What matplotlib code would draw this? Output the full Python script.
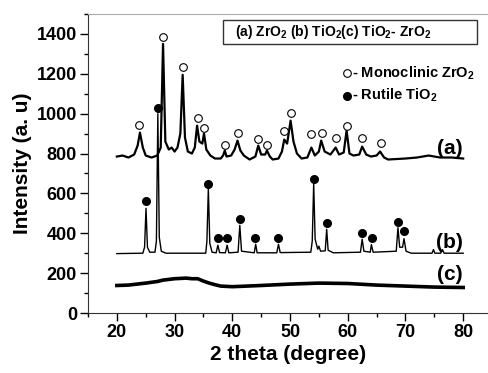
import matplotlib
matplotlib.use("Agg")
import matplotlib.pyplot as plt
from matplotlib.patches import Rectangle

plt.rcParams['font.family'] = ['Liberation Sans', 'DejaVu Sans']
plt.rcParams['font.weight'] = 'bold'
plt.rcParams['mathtext.fontset'] = 'custom'
plt.rcParams['mathtext.bf'] = 'Liberation Sans:bold'
plt.rcParams['mathtext.rm'] = 'Liberation Sans:bold'
plt.rcParams['mathtext.default'] = 'bf'

# ---- data ----
theta_a = [20, 21, 22, 23, 23.6, 24.0, 24.5, 25, 26, 27, 27.6, 28.0, 28.4, 29, 29.5, 30, 30.5,
           31.0, 31.4, 31.8, 32.3, 33, 33.5, 33.9, 34.3, 34.8, 35.1, 35.5, 36.2, 37, 38, 38.4,
           38.7, 39.0, 39.8, 40.4, 40.9, 41.4, 42, 43, 44, 44.5, 45.0, 45.7, 46.0, 46.5, 47, 48,
           48.6, 49.0, 49.5, 50.1, 50.6, 51.2, 52, 53, 53.7, 54.3, 55, 55.4, 56, 57, 57.9, 58.5,
           59.3, 59.8, 60.3, 61, 62, 62.5, 63.2, 64, 65, 65.6, 66.3, 67, 70, 72, 74, 76, 78, 80]
int_a = [785, 790, 780, 795, 840, 905, 830, 790, 780, 790, 830, 1350, 860, 820, 830, 810, 830,
         900, 1195, 880, 810, 800, 830, 940, 860, 850, 900, 820, 790, 775, 775, 790,
         815, 785, 790, 820, 865, 815, 790, 770, 785, 840, 795, 795, 815, 785, 770, 775,
         810, 870, 850, 965, 860, 800, 775, 780, 830, 790, 810, 865, 810, 795, 830, 795,
         805, 915, 800, 790, 795, 835, 795, 785, 790, 810, 780, 770, 775, 780, 790, 780, 780, 775]

theta_b = [20, 24.5, 24.8, 25.05, 25.3, 25.7, 26.6, 26.85, 27.1, 27.35, 27.7, 28.5, 35.4, 35.6,
           35.85, 36.1, 36.5, 37.2, 37.5, 37.8, 38.8, 39.1, 39.4, 41.0, 41.3, 41.6, 43.8, 44.05,
           44.3, 47.7, 48.0, 48.3, 53.6, 53.85, 54.1, 54.35, 54.8, 55.0, 55.3, 56.1, 56.35, 56.6,
           57.5, 62.2, 62.5, 62.8, 63.9, 64.1, 64.4, 68.4, 68.7, 69.0, 69.5, 69.75, 70.1, 71,
           74.6, 74.85, 75.1, 76.1, 76.4, 76.7, 80]
int_b = [298, 300, 330, 525, 330, 305, 305, 360, 1000, 380, 310, 300, 300, 360,
         625, 350, 305, 302, 340, 303, 302, 340, 302, 305, 440, 310, 302, 345,
         302, 302, 345, 303, 305, 360, 650, 370, 320, 335, 310, 312, 420, 315,
         302, 305, 370, 310, 305, 343, 305, 310, 428, 330, 330, 373, 310, 300,
         300, 318, 300, 300, 318, 300, 300]

theta_c = [20, 22, 25, 27, 28, 30, 32, 33, 34, 35, 36, 37, 38, 40, 45, 50, 55, 60, 65, 70, 75, 80]
int_c = [138, 140, 150, 158, 165, 172, 175, 172, 172, 160, 150, 142, 135, 132, 138, 145, 150, 148,
         140, 135, 130, 128]

zro2_theta = [23.8, 28.0, 31.4, 34.0, 35.1, 38.7, 41.0, 44.5, 46.0, 49.0, 50.2, 53.6, 55.5, 58.0,
              59.8, 62.5, 65.7]
zro2_int = [945, 1385, 1235, 976, 930, 845, 902, 872, 845, 915, 1005, 898, 902, 878, 940, 878, 852]

tio2_theta = [25.0, 27.1, 35.8, 37.5, 39.1, 41.3, 44.0, 48.0, 54.1, 56.4, 62.5, 64.2, 68.7, 69.8]
tio2_int = [560, 1030, 648, 377, 377, 470, 377, 377, 673, 453, 403, 378, 457, 410]

curve_labels = ['(a)', '(b)', '(c)']
curve_label_pos = [825, 355, 195]

# ---- figure ----
fig = plt.figure(figsize=(4.88, 3.73), dpi=100)
ax = fig.add_axes([88/488, 60/373, 1 - 88/488, (313 - 14)/373])

ax.plot(theta_a, int_a, color='black', lw=1.6)
ax.plot(theta_b, int_b, color='black', lw=1.0)
ax.plot(theta_c, int_c, color='black', lw=2.6)

ax.plot(zro2_theta, zro2_int, 'o', ms=5.5, mfc='white', mec='black', mew=0.8)
ax.plot(tio2_theta, tio2_int, 'o', ms=5.5, mfc='black', mec='black')

for lab, y in zip(curve_labels, curve_label_pos):
    ax.text(77.7, y, lab, fontsize=15, fontweight='heavy', ha='center', va='center')

# title box
ax.add_patch(Rectangle((38.4, 1350), 82.4 - 38.4, 120, fill=False, ec='#333333', lw=1.0))
ax.text(40.4, 1410, r'(a) ZrO$_2$ (b) TiO$_2$(c) TiO$_2$- ZrO$_2$', fontsize=10,
        fontweight='bold', ha='left', va='center')

# marker legend
ax.plot([59.9], [1205], 'o', ms=5.5, mfc='white', mec='black', mew=0.8)
ax.text(60.8, 1205, r'- Monoclinic ZrO$_2$', fontsize=10.5, fontweight='bold', ha='left', va='center')
ax.plot([59.9], [1090], 'o', ms=5.5, mfc='black', mec='black')
ax.text(60.8, 1090, r'- Rutile TiO$_2$', fontsize=10.5, fontweight='bold', ha='left', va='center')

ax.set_xlim(15, 84.3)
ax.set_ylim(0, 1495)
ax.set_xticks([20, 30, 40, 50, 60, 70, 80])
ax.set_xticks(range(15, 85, 5), minor=True)
ax.set_yticks(range(0, 1401, 200))
ax.set_yticks(range(0, 1501, 100), minor=True)

ax.tick_params(which='major', direction='out', length=6, width=1, labelsize=13, pad=2)
ax.tick_params(which='minor', direction='out', length=3, width=1)
for t in ax.get_xticklabels() + ax.get_yticklabels():
    t.set_fontweight('bold')

ax.spines['right'].set_visible(False)
ax.spines['top'].set_color('#aaaaaa')
ax.spines['top'].set_linewidth(0.8)
ax.spines['left'].set_color('#333333')
ax.spines['bottom'].set_color('#333333')

ax.set_xlabel('2 theta (degree)', fontsize=15, fontweight='bold', labelpad=3)
ax.set_ylabel('Intensity (a. u)', fontsize=15, fontweight='bold', labelpad=3)

fig.savefig('out.png', dpi=100)
